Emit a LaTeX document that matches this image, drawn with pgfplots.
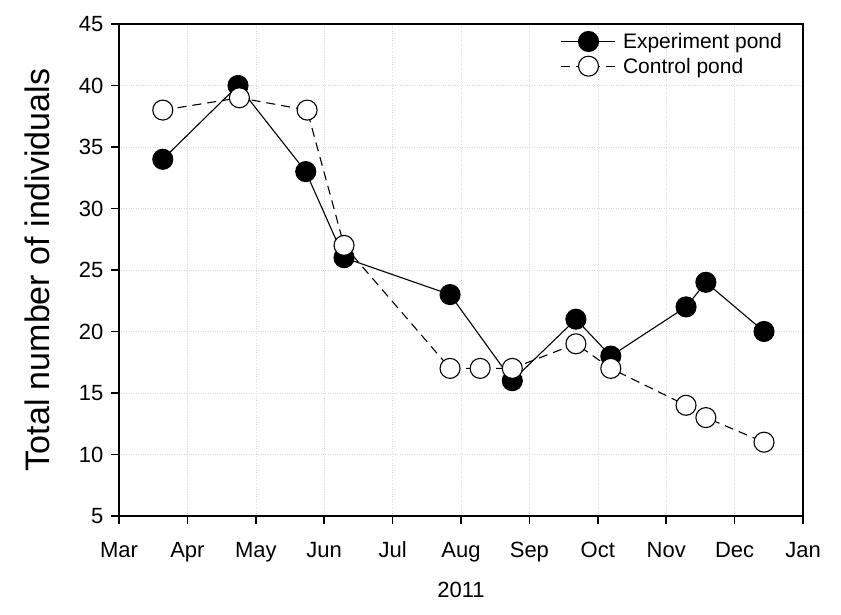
\documentclass[border=0pt]{standalone}
\usepackage{fontspec}
\setmainfont{Liberation Sans}
\usepackage{pgfplots}
\pgfplotsset{compat=1.18}

\newcommand{\tickfont}{\fontsize{22}{26}\selectfont}

\begin{document}
\begin{tikzpicture}
\useasboundingbox (0,0) rectangle (841pt,615pt);
\begin{axis}[
    at={(119pt,99pt)}, anchor=south west,
    width=684pt, height=492pt, scale only axis,
    xmin=0, xmax=10, ymin=5, ymax=45,
    xtick={0,...,10},
    xticklabels={Mar,Apr,May,Jun,Jul,Aug,Sep,Oct,Nov,Dec,Jan},
    ytick={5,10,...,45},
    tick align=outside, tick pos=left,
    major tick length=8pt,
    every tick/.style={black, line width=1.5pt},
    axis line style={line width=2.5pt},
    /pgf/number format/assume math mode=true,
    xticklabel style={font=\tickfont, anchor=base, yshift=-34pt},
    yticklabel style={font=\tickfont, xshift=-4pt},
    grid=major,
    major grid style={dotted, gray!30, line width=0.6pt},
    ylabel={Total number of individuals},
    ylabel style={at={(axis description cs:-0.1009,0.5)}, anchor=base, rotate=0, font=\fontsize{34}{40}\selectfont},
    xlabel={2011},
    xlabel style={at={(axis description cs:0.5,-0.150)}, anchor=center, font=\tickfont},
    legend style={draw=none, fill=none, at={(axis description cs:0.640,0.99)}, anchor=north west,
        font=\fontsize{21}{24}\selectfont, row sep=4pt,
        /tikz/every odd column/.append style={column sep=6pt}},
    legend cell align=left,
    legend image code/.code={
        \draw[#1, mark=none] (0pt,0pt) -- (54pt,0pt);
        \draw[#1, solid] plot coordinates {(28pt,0pt)};
    },
]
\addplot[black, line width=1.1pt, mark=*, mark size=10pt, mark options={fill=black, solid}] coordinates {
    (0.64,34) (1.74,40) (2.73,33) (3.29,26) (4.84,23) (5.75,16)
    (6.68,21) (7.19,18) (8.29,22) (8.58,24) (9.43,20)
};
\addlegendentry{Experiment pond}
\addplot[black, line width=1.1pt, dash pattern=on 9pt off 6pt, mark=*, mark size=10pt, mark options={fill=white, solid}] coordinates {
    (0.64,38) (1.76,39) (2.75,38) (3.29,27) (4.84,17) (5.28,17) (5.75,17)
    (6.68,19) (7.19,17) (8.29,14) (8.58,13) (9.43,11)
};
\addlegendentry{Control pond}
\end{axis}
\end{tikzpicture}
\end{document}
